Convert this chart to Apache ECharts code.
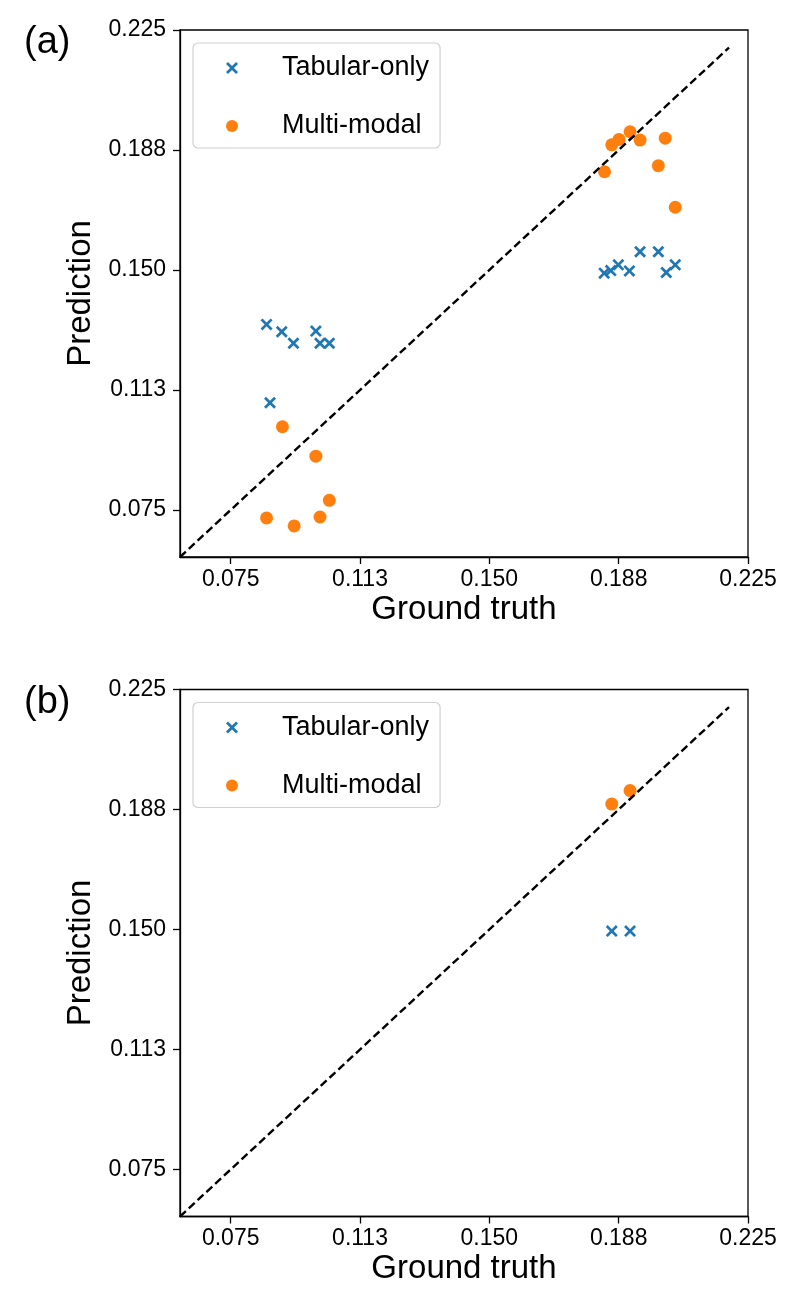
<!DOCTYPE html>
<html>
<head>
<meta charset="utf-8">
<script src="https://cdn.jsdelivr.net/npm/echarts@6/dist/echarts.min.js"></script>
<style>
html,body{margin:0;padding:0;background:#fff;}
#chart{width:792px;height:1300px;}
</style>
</head>
<body>
<div id="chart"></div>
<script>
// ---- data ----
const tickValues = [0.075, 0.1125, 0.15, 0.1875, 0.225];
const tickLabels = ['0.075', '0.113', '0.150', '0.188', '0.225'];
const axisLimits = [0.0603, 0.225];
const diagonal = [0.0603, 0.2195];

const seriesNames = ['Tabular-only', 'Multi-modal'];
const panelLabels = ['(a)', '(b)'];

// panel (a)
const tabularA_x = [0.0854, 0.0898, 0.0932, 0.0997, 0.1009, 0.1036, 0.0864, 0.1833, 0.1852, 0.1874, 0.1906, 0.1937, 0.1990, 0.2013, 0.2039];
const tabularA_y = [0.1330, 0.1307, 0.1271, 0.1309, 0.1271, 0.1271, 0.1085, 0.1490, 0.1498, 0.1516, 0.1497, 0.1557, 0.1557, 0.1492, 0.1516];
const multiA_x = [0.0900, 0.0997, 0.1036, 0.0854, 0.0934, 0.1009, 0.1855, 0.1876, 0.1908, 0.1937, 0.2010, 0.1834, 0.1990, 0.2039];
const multiA_y = [0.1010, 0.0918, 0.0780, 0.0725, 0.0700, 0.0728, 0.1891, 0.1908, 0.1932, 0.1906, 0.1912, 0.1807, 0.1826, 0.1696];

// panel (b)
const tabularB_x = [0.1855, 0.1908];
const tabularB_y = [0.1495, 0.1495];
const multiB_x = [0.1855, 0.1908];
const multiB_y = [0.1892, 0.1934];

// ---- styling ----
const FONT = 'Liberation Sans, Arial, Helvetica, sans-serif';
const BLUE = '#1f77b4';
const ORANGE = '#ff7f0e';
const CROSS = 'path://M0,1.6L1.6,0L5,3.4L8.4,0L10,1.6L6.6,5L10,8.4L8.4,10L5,6.6L1.6,10L0,8.4L3.4,5Z';

function zip(xs, ys) { return xs.map((x, i) => [x, ys[i]]); }
function fmt(v) {
  let best = 0;
  for (let i = 1; i < tickValues.length; i++) {
    if (Math.abs(tickValues[i] - v) < Math.abs(tickValues[best] - v)) best = i;
  }
  return tickLabels[best];
}

const gridTops = [30, 689.5];
const grids = gridTops.map(t => ({
  left: 180, top: t, width: 568, height: 527,
  show: true, borderColor: '#000', borderWidth: 1.3, backgroundColor: 'transparent'
}));

function makeAxis(isX, gi) {
  return {
    type: 'value', gridIndex: gi,
    min: axisLimits[0], max: axisLimits[1],
    name: isX ? 'Ground truth' : 'Prediction',
    nameLocation: 'middle',
    nameGap: isX ? 36 : 75,
    nameTextStyle: { fontFamily: FONT, fontSize: 33, color: '#000' },
    axisLine: { show: true, onZero: false, lineStyle: { color: '#000', width: 1.3 } },
    axisTick: { show: true, inside: false, length: 7, customValues: tickValues, lineStyle: { color: '#000', width: 1.3 } },
    axisLabel: { show: true, customValues: tickValues, formatter: fmt, margin: isX ? 11 : 14,
      fontFamily: FONT, fontSize: 23, color: '#000' },
    splitLine: { show: false }
  };
}

const xAxes = [makeAxis(true, 0), makeAxis(true, 1)];
const yAxes = [makeAxis(false, 0), makeAxis(false, 1)];

const panels = [
  { tab: zip(tabularA_x, tabularA_y), multi: zip(multiA_x, multiA_y) },
  { tab: zip(tabularB_x, tabularB_y), multi: zip(multiB_x, multiB_y) }
];

const series = [];
panels.forEach((p, gi) => {
  series.push({
    name: seriesNames[0], type: 'scatter', xAxisIndex: gi, yAxisIndex: gi,
    symbol: CROSS, symbolSize: 12, itemStyle: { color: BLUE, opacity: 1 },
    data: p.tab, z: 2, emphasis: { disabled: true }
  });
  series.push({
    name: seriesNames[1], type: 'scatter', xAxisIndex: gi, yAxisIndex: gi,
    symbol: 'circle', symbolSize: 13, itemStyle: { color: ORANGE, opacity: 1 },
    data: p.multi, z: 2, emphasis: { disabled: true }
  });
  series.push({
    type: 'line', xAxisIndex: gi, yAxisIndex: gi, symbol: 'none', silent: true,
    data: [[diagonal[0], diagonal[0]], [diagonal[1], diagonal[1]]],
    lineStyle: { color: '#000', width: 2.4, type: [8, 4] }, z: 3
  });
});

const legends = gridTops.map(t => ({
  orient: 'vertical', left: 193, top: t + 13,
  padding: [10, 11, 7, 33], itemGap: 28,
  itemWidth: 12, itemHeight: 12,
  borderColor: '#d0d0d0', borderWidth: 1.2, borderRadius: 5, backgroundColor: 'rgba(255,255,255,0.8)',
  selectedMode: false,
  textStyle: { fontFamily: FONT, fontSize: 27, color: '#000', lineHeight: 30, padding: [0, 0, 0, 39] },
  data: [
    { name: seriesNames[0], icon: CROSS, itemStyle: { color: BLUE } },
    { name: seriesNames[1], icon: 'circle', itemStyle: { color: ORANGE } }
  ]
}));

const titles = panelLabels.map((txt, i) => ({
  text: txt, left: 24, top: gridTops[i] - 6, padding: 0,
  textStyle: { fontFamily: FONT, fontSize: 38, fontWeight: 'normal', color: '#000' }
}));

const chart = echarts.init(document.getElementById('chart'), null, { renderer: 'canvas' });
chart.setOption({
  animation: false,
  backgroundColor: '#fff',
  title: titles,
  legend: legends,
  grid: grids,
  xAxis: xAxes,
  yAxis: yAxes,
  series: series
});
</script>
</body>
</html>
